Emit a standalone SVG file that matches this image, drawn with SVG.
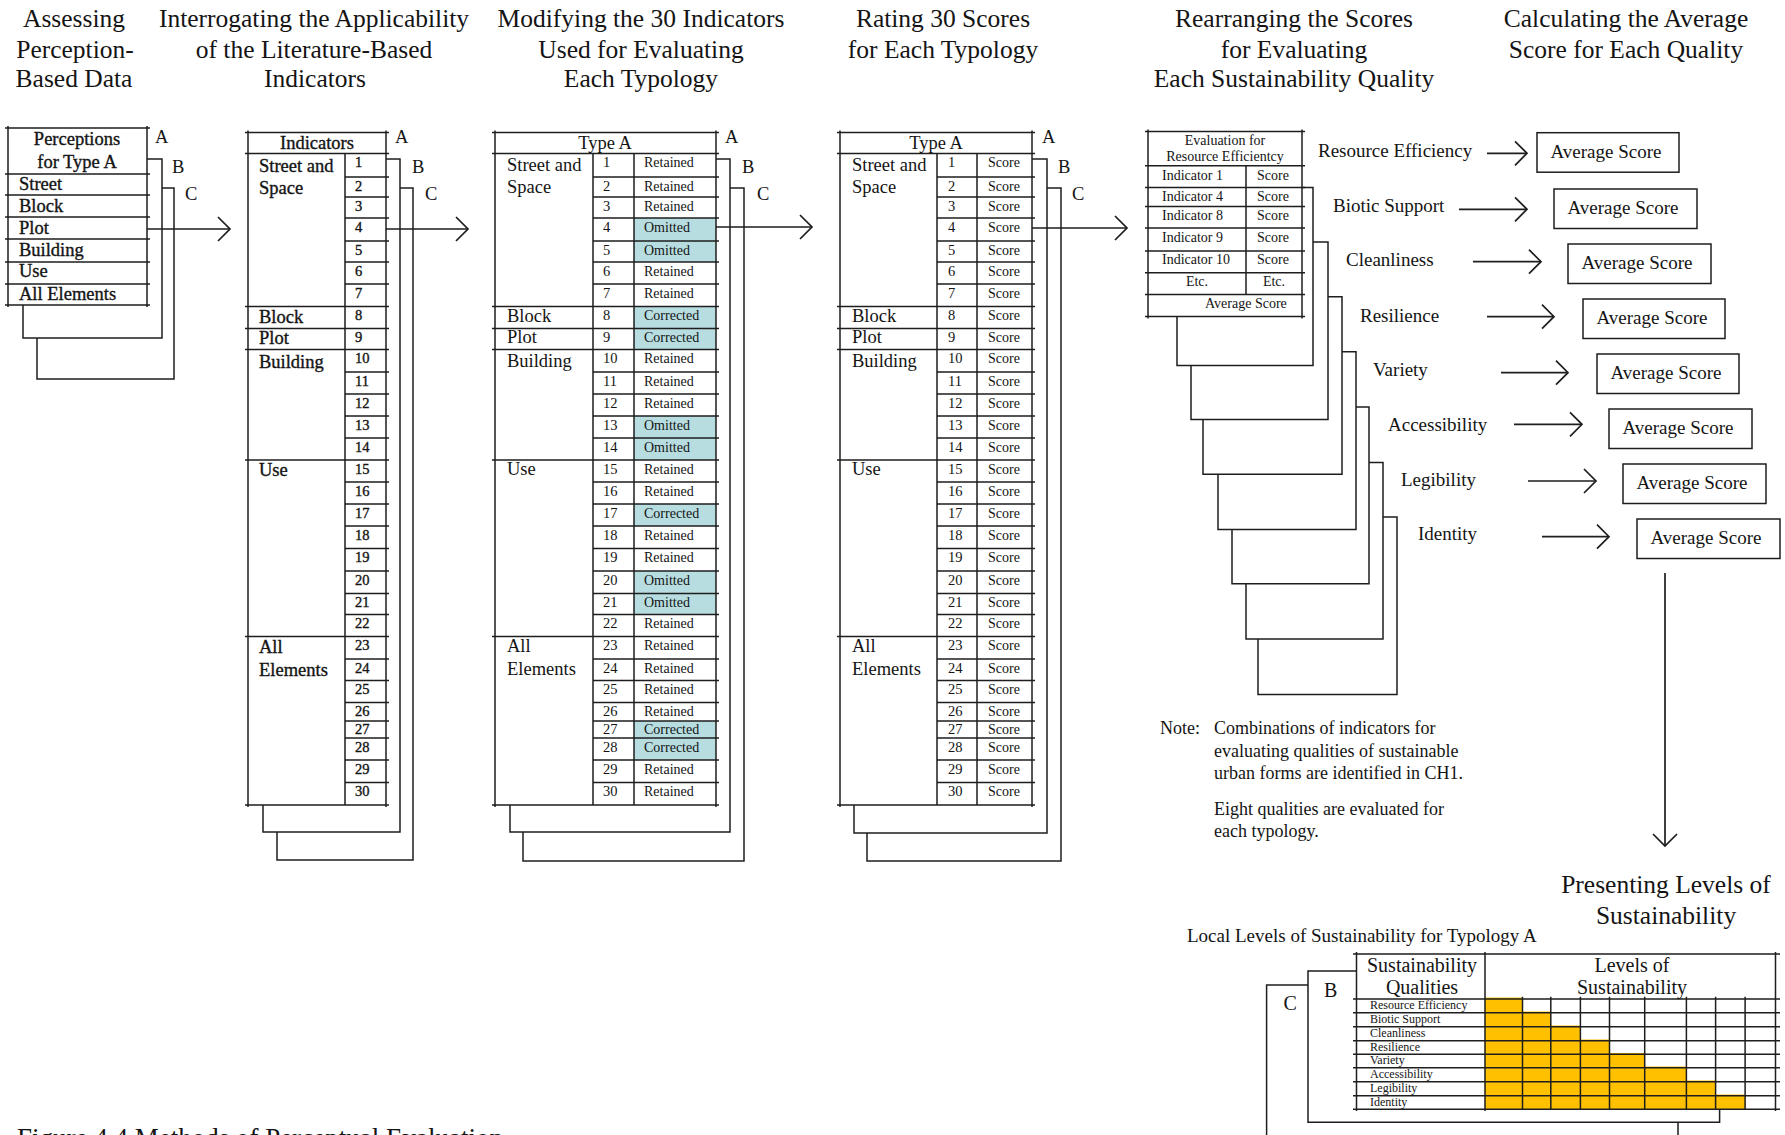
<svg xmlns="http://www.w3.org/2000/svg" width="1785" height="1135" viewBox="0 0 1785 1135">
<style>
text{font-family:"Liberation Serif","Times New Roman",serif;fill:#141414}
.ttl{font-size:25.5px;text-anchor:middle}
.ln{fill:none;stroke:#1e1e1e;stroke-width:1.5}
.ar{fill:none;stroke:#1e1e1e;stroke-width:1.7}
.lab{font-size:18.5px}
.hvy{stroke:#141414;stroke-width:0.35px}
.abc{font-size:18.5px}
.num{font-size:14.5px}
.sm{font-size:14px}
.q{font-size:19px}
.mid{text-anchor:middle}
.teal{fill:#b7dde0}
.gold{fill:#ffc000}
</style>
<defs>
  <path id="chev" class="ar" d="M-12,-12 L0,0 L-12,12"/>
  <!-- indicator numbers 1..30, one per row -->
  <g id="numcol">
    <text class="num"><tspan x="0" y="167">1</tspan><tspan x="0" y="190.5">2</tspan><tspan x="0" y="210.5">3</tspan><tspan x="0" y="231.5">4</tspan><tspan x="0" y="254.5">5</tspan><tspan x="0" y="275.5">6</tspan><tspan x="0" y="297.5">7</tspan><tspan x="0" y="320">8</tspan><tspan x="0" y="342">9</tspan><tspan x="0" y="363">10</tspan><tspan x="0" y="385.5">11</tspan><tspan x="0" y="407.5">12</tspan><tspan x="0" y="429.5">13</tspan><tspan x="0" y="451.5">14</tspan><tspan x="0" y="473.5">15</tspan><tspan x="0" y="495.5">16</tspan><tspan x="0" y="517.5">17</tspan><tspan x="0" y="539.5">18</tspan><tspan x="0" y="562">19</tspan><tspan x="0" y="584.5">20</tspan><tspan x="0" y="607">21</tspan><tspan x="0" y="628">22</tspan><tspan x="0" y="650">23</tspan><tspan x="0" y="672.5">24</tspan><tspan x="0" y="694">25</tspan><tspan x="0" y="716">26</tspan><tspan x="0" y="734">27</tspan><tspan x="0" y="751.5">28</tspan><tspan x="0" y="773.5">29</tspan><tspan x="0" y="796">30</tspan></text>
  </g>
  <!-- urban element categories -->
  <g id="catcol">
    <text class="lab"><tspan x="0" y="170.5">Street and</tspan><tspan x="0" y="192.5">Space</tspan><tspan x="0" y="321.5">Block</tspan><tspan x="0" y="343">Plot</tspan><tspan x="0" y="366.5">Building</tspan><tspan x="0" y="475">Use</tspan><tspan x="0" y="652">All</tspan><tspan x="0" y="675">Elements</tspan></text>
  </g>
</defs>

<rect width="1785" height="1135" fill="#ffffff"/>

<!-- step headings -->
<g id="headings">
  <text class="ttl" x="74" y="27">Assessing</text>
  <text class="ttl" x="75" y="57.5">Perception-</text>
  <text class="ttl" x="74" y="87">Based Data</text>
  <text class="ttl" x="314" y="27">Interrogating the Applicability</text>
  <text class="ttl" x="314" y="57.5">of the Literature-Based</text>
  <text class="ttl" x="315" y="87">Indicators</text>
  <text class="ttl" x="641" y="27">Modifying the 30 Indicators</text>
  <text class="ttl" x="641" y="57.5">Used for Evaluating</text>
  <text class="ttl" x="641" y="87">Each Typology</text>
  <text class="ttl" x="943" y="27">Rating 30 Scores</text>
  <text class="ttl" x="943" y="57.5">for Each Typology</text>
  <text class="ttl" x="1294" y="27">Rearranging the Scores</text>
  <text class="ttl" x="1294" y="57.5">for Evaluating</text>
  <text class="ttl" x="1294" y="87">Each Sustainability Quality</text>
  <text class="ttl" x="1626" y="27">Calculating the Average</text>
  <text class="ttl" x="1626" y="57.5">Score for Each Quality</text>
</g>

<!-- perception data table -->
<g id="perceptions">
  <path class="ln" d="M147 159H162V338H23V305M162 188H174V379H37V338"/>
  <rect x="8" y="128" width="139" height="177" fill="#fff"/>
  <path class="ln" d="M5 128H150M5 174H150M5 195H150M5 217H150M5 239H150M5 262H150M5 284H150M5 305H150M8 126V307M147 126V307"/>
  <g class="lab hvy">
    <text class="mid" x="77" y="145">Perceptions</text>
    <text class="mid" x="77" y="168">for Type A</text>
    <text x="19" y="190">Street</text>
    <text x="19" y="212">Block</text>
    <text x="19" y="233.5">Plot</text>
    <text x="19" y="255.5">Building</text>
    <text x="19" y="277">Use</text>
    <text x="19" y="299.5">All Elements</text>
  </g>
  <text class="abc" x="155" y="143">A</text>
  <text class="abc" x="172" y="173">B</text>
  <text class="abc" x="185" y="200">C</text>
</g>

<!-- literature-based indicators table -->
<g id="indicators">
  <path class="ln" d="M386 159H400V832H263V805M400 188H413V860H277V832"/>
  <rect x="248" y="132.5" width="138" height="672.5" fill="#fff"/>
  <path class="ln" d="M245 132.5H389M245 153.5H389M245 805H389M248 130.5V807M386 130.5V807M345 153.5V805M245 306.5H345M245 328.5H345M245 349.5H345M245 460H345M245 636.5H345"/>
  <path class="ln" d="M345 177H389M345 197H389M345 218H389M345 241H389M345 262H389M345 284H389M345 306.5H389M345 328.5H389M345 349.5H389M345 372H389M345 394H389M345 416H389M345 438H389M345 460H389M345 482H389M345 504H389M345 526H389M345 548.5H389M345 571H389M345 593.5H389M345 614.5H389M345 636.5H389M345 659H389M345 680.5H389M345 702.5H389M345 721H389M345 738H389M345 760H389M345 782.5H389"/>
  <text class="lab mid hvy" x="317" y="148.5">Indicators</text>
  <use href="#catcol" x="259" y="1" class="hvy"/>
  <use href="#numcol" x="355" class="hvy"/>
  <text class="abc" x="395" y="143">A</text>
  <text class="abc" x="412" y="173">B</text>
  <text class="abc" x="425" y="200">C</text>
</g>

<!-- modified indicators for Type A -->
<g id="modified">
  <path class="ln" d="M716 159H730V832H510V805M730 188H744V861H523V832"/>
  <rect x="495" y="132.5" width="221" height="672.5" fill="#fff"/>
  <g class="teal">
    <rect x="634" y="218" width="82" height="44"/>
    <rect x="634" y="306.5" width="82" height="43"/>
    <rect x="634" y="416" width="82" height="44"/>
    <rect x="634" y="504" width="82" height="22"/>
    <rect x="634" y="571" width="82" height="43.5"/>
    <rect x="634" y="721" width="82" height="39"/>
  </g>
  <path class="ln" d="M492 132.5H719M492 153.5H719M492 805H719M495 130.5V807M716 130.5V807M593 153.5V805M634 153.5V805M492 306.5H593M492 328.5H593M492 349.5H593M492 460H593M492 636.5H593"/>
  <path class="ln" d="M593 177H719M593 197H719M593 218H719M593 241H719M593 262H719M593 284H719M593 306.5H719M593 328.5H719M593 349.5H719M593 372H719M593 394H719M593 416H719M593 438H719M593 460H719M593 482H719M593 504H719M593 526H719M593 548.5H719M593 571H719M593 593.5H719M593 614.5H719M593 636.5H719M593 659H719M593 680.5H719M593 702.5H719M593 721H719M593 738H719M593 760H719M593 782.5H719"/>
  <text class="lab mid" x="605" y="148.5">Type A</text>
  <use href="#catcol" x="507"/>
  <use href="#numcol" x="603"/>
  <text class="sm"><tspan x="644" y="167">Retained</tspan><tspan x="644" y="190.5">Retained</tspan><tspan x="644" y="210.5">Retained</tspan><tspan x="644" y="231.5">Omitted</tspan><tspan x="644" y="254.5">Omitted</tspan><tspan x="644" y="275.5">Retained</tspan><tspan x="644" y="297.5">Retained</tspan><tspan x="644" y="320">Corrected</tspan><tspan x="644" y="342">Corrected</tspan><tspan x="644" y="363">Retained</tspan><tspan x="644" y="385.5">Retained</tspan><tspan x="644" y="407.5">Retained</tspan><tspan x="644" y="429.5">Omitted</tspan><tspan x="644" y="451.5">Omitted</tspan><tspan x="644" y="473.5">Retained</tspan><tspan x="644" y="495.5">Retained</tspan><tspan x="644" y="517.5">Corrected</tspan><tspan x="644" y="539.5">Retained</tspan><tspan x="644" y="562">Retained</tspan><tspan x="644" y="584.5">Omitted</tspan><tspan x="644" y="607">Omitted</tspan><tspan x="644" y="628">Retained</tspan><tspan x="644" y="650">Retained</tspan><tspan x="644" y="672.5">Retained</tspan><tspan x="644" y="694">Retained</tspan><tspan x="644" y="716">Retained</tspan><tspan x="644" y="734">Corrected</tspan><tspan x="644" y="751.5">Corrected</tspan><tspan x="644" y="773.5">Retained</tspan><tspan x="644" y="796">Retained</tspan></text>
  <text class="abc" x="725" y="143">A</text>
  <text class="abc" x="742" y="173">B</text>
  <text class="abc" x="757" y="200">C</text>
</g>

<!-- scores for Type A -->
<g id="scores">
  <path class="ln" d="M1032 159H1047V833H854V805M1047 188H1061V861H867V833"/>
  <rect x="840" y="132.5" width="192" height="672.5" fill="#fff"/>
  <path class="ln" d="M837 132.5H1035M837 153.5H1035M837 805H1035M840 130.5V807M1032 130.5V807M937 153.5V805M977 153.5V805M837 306.5H937M837 328.5H937M837 349.5H937M837 460H937M837 636.5H937"/>
  <path class="ln" d="M937 177H1035M937 197H1035M937 218H1035M937 241H1035M937 262H1035M937 284H1035M937 306.5H1035M937 328.5H1035M937 349.5H1035M937 372H1035M937 394H1035M937 416H1035M937 438H1035M937 460H1035M937 482H1035M937 504H1035M937 526H1035M937 548.5H1035M937 571H1035M937 593.5H1035M937 614.5H1035M937 636.5H1035M937 659H1035M937 680.5H1035M937 702.5H1035M937 721H1035M937 738H1035M937 760H1035M937 782.5H1035"/>
  <text class="lab mid" x="936" y="148.5">Type A</text>
  <use href="#catcol" x="852"/>
  <use href="#numcol" x="948"/>
  <text class="sm"><tspan x="988" y="167">Score</tspan><tspan x="988" y="190.5">Score</tspan><tspan x="988" y="210.5">Score</tspan><tspan x="988" y="231.5">Score</tspan><tspan x="988" y="254.5">Score</tspan><tspan x="988" y="275.5">Score</tspan><tspan x="988" y="297.5">Score</tspan><tspan x="988" y="320">Score</tspan><tspan x="988" y="342">Score</tspan><tspan x="988" y="363">Score</tspan><tspan x="988" y="385.5">Score</tspan><tspan x="988" y="407.5">Score</tspan><tspan x="988" y="429.5">Score</tspan><tspan x="988" y="451.5">Score</tspan><tspan x="988" y="473.5">Score</tspan><tspan x="988" y="495.5">Score</tspan><tspan x="988" y="517.5">Score</tspan><tspan x="988" y="539.5">Score</tspan><tspan x="988" y="562">Score</tspan><tspan x="988" y="584.5">Score</tspan><tspan x="988" y="607">Score</tspan><tspan x="988" y="628">Score</tspan><tspan x="988" y="650">Score</tspan><tspan x="988" y="672.5">Score</tspan><tspan x="988" y="694">Score</tspan><tspan x="988" y="716">Score</tspan><tspan x="988" y="734">Score</tspan><tspan x="988" y="751.5">Score</tspan><tspan x="988" y="773.5">Score</tspan><tspan x="988" y="796">Score</tspan></text>
  <text class="abc" x="1042" y="143">A</text>
  <text class="abc" x="1058" y="173">B</text>
  <text class="abc" x="1072" y="200">C</text>
</g>

<!-- scores regrouped per quality: stacked sheets -->
<g id="evaluation">
  <path class="ln" d="M1383 517H1397V694.4H1258V639"/>
  <path class="ln" d="M1369 462.4H1383V639H1246V583.7"/>
  <path class="ln" d="M1356 407H1369V583.7H1232V529.5"/>
  <path class="ln" d="M1342 351.7H1356V529.5H1218V474.2"/>
  <path class="ln" d="M1328 296.7H1342V474.2H1203V419.6"/>
  <path class="ln" d="M1313 242.1H1328V419.6H1191V365.4"/>
  <path class="ln" d="M1302 187.6H1313V365.4H1177V316.6"/>
  <path class="ln" d="M1145 131.5H1305M1145 165.8H1305M1145 187.6H1305M1145 206.6H1305M1145 228H1305M1145 250.9H1305M1145 272.7H1305M1145 294.4H1305M1145 316.6H1305M1148 129.5V318.6M1302 129.5V318.6M1246 165.8V294.4"/>
  <text class="sm mid" x="1225" y="145">Evaluation for</text>
  <text class="sm mid" x="1225" y="160.5">Resource Efficientcy</text>
  <g class="sm">
    <text x="1162" y="179.5">Indicator 1</text>
    <text x="1162" y="200.5">Indicator 4</text>
    <text x="1162" y="220">Indicator 8</text>
    <text x="1162" y="242">Indicator 9</text>
    <text x="1162" y="264">Indicator 10</text>
    <text class="mid" x="1197" y="286">Etc.</text>
    <text x="1257" y="179.5">Score</text>
    <text x="1257" y="200.5">Score</text>
    <text x="1257" y="220">Score</text>
    <text x="1257" y="242">Score</text>
    <text x="1257" y="264">Score</text>
    <text class="mid" x="1274" y="286">Etc.</text>
    <text x="1205" y="308">Average Score</text>
  </g>
</g>

<!-- sustainability qualities -->
<g id="qualities" class="q">
  <text x="1318" y="157">Resource Efficiency</text>
  <text x="1333" y="211.5">Biotic Support</text>
  <text x="1346" y="266">Cleanliness</text>
  <text x="1360" y="321.5">Resilience</text>
  <text x="1373" y="375.5">Variety</text>
  <text x="1388" y="431">Accessibility</text>
  <text x="1401" y="485.5">Legibility</text>
  <text x="1418" y="540">Identity</text>
</g>

<!-- average score per quality -->
<g id="averages">
  <g class="ln">
    <rect x="1537" y="132.7" width="142" height="39.5"/>
    <rect x="1554" y="189" width="143" height="39.5"/>
    <rect x="1568" y="244" width="143" height="39.5"/>
    <rect x="1583" y="299" width="142" height="39.5"/>
    <rect x="1597" y="354" width="142" height="39.5"/>
    <rect x="1609" y="409" width="143" height="39.5"/>
    <rect x="1623" y="464" width="143" height="39.5"/>
    <rect x="1637" y="519" width="143" height="39.5"/>
  </g>
  <g class="q">
    <text x="1550.5" y="157.5">Average Score</text>
    <text x="1567.5" y="213.5">Average Score</text>
    <text x="1581.5" y="268.5">Average Score</text>
    <text x="1596.5" y="323.5">Average Score</text>
    <text x="1610.5" y="378.5">Average Score</text>
    <text x="1622.5" y="433.5">Average Score</text>
    <text x="1636.5" y="488.5">Average Score</text>
    <text x="1650.5" y="543.5">Average Score</text>
  </g>
</g>

<!-- note -->
<g id="note" style="font-size:18px">
  <text x="1160" y="733.5">Note:</text>
  <text x="1214" y="733.5">Combinations of indicators for</text>
  <text x="1214" y="756.5">evaluating qualities of sustainable</text>
  <text x="1214" y="779">urban forms are identified in CH1.</text>
  <text x="1214" y="815">Eight qualities are evaluated for</text>
  <text x="1214" y="837">each typology.</text>
</g>

<!-- presentation of levels -->
<g id="levels">
  <text class="ttl" x="1666" y="893">Presenting Levels of</text>
  <text class="ttl" x="1666" y="924">Sustainability</text>
  <text class="q" x="1187" y="942">Local Levels of Sustainability for Typology A</text>
  <path class="ln" d="M1356.5 971H1308V1122.3H1719.6V1109.3M1308 985H1266.6V1140M1678 1122.3V1140"/>
  <text style="font-size:20px" x="1324" y="997">B</text>
  <text style="font-size:20px" x="1283.5" y="1010">C</text>
  <g class="gold">
    <rect x="1485" y="997.5" width="37.5" height="15.2"/>
    <rect x="1485" y="1011.5" width="65.8" height="15.2"/>
    <rect x="1485" y="1025.5" width="95.4" height="15.2"/>
    <rect x="1485" y="1039.5" width="124.5" height="14.8"/>
    <rect x="1485" y="1053" width="159.7" height="14.7"/>
    <rect x="1485" y="1066.5" width="201.4" height="15.2"/>
    <rect x="1485" y="1080.5" width="230.6" height="15.2"/>
    <rect x="1485" y="1094.5" width="260.1" height="14.8"/>
  </g>
  <path class="ln" d="M1353 954H1780M1353 999H1780M1353 1012.7H1780M1353 1026.7H1780M1353 1040.7H1780M1353 1054.3H1780M1353 1067.7H1780M1353 1081.7H1780M1353 1095.7H1780M1353 1109.3H1780M1356.5 952V1111M1485 952V1111M1775.5 952V1111M1522.5 996.7V1109.3M1550.8 996.7V1109.3M1580.4 996.7V1109.3M1609.5 996.7V1109.3M1644.7 996.7V1109.3M1686.4 996.7V1109.3M1715.6 996.7V1109.3M1745.1 996.7V1109.3"/>
  <text style="font-size:20px" class="mid" x="1422" y="972">Sustainability</text>
  <text style="font-size:20px" class="mid" x="1422" y="994">Qualities</text>
  <text style="font-size:20px" class="mid" x="1632" y="972">Levels of</text>
  <text style="font-size:20px" class="mid" x="1632" y="994">Sustainability</text>
  <g style="font-size:12px">
    <text x="1370" y="1008.5">Resource Efficiency</text>
    <text x="1370" y="1022.5">Biotic Support</text>
    <text x="1370" y="1036.5">Cleanliness</text>
    <text x="1370" y="1050.5">Resilience</text>
    <text x="1370" y="1064">Variety</text>
    <text x="1370" y="1078">Accessibility</text>
    <text x="1370" y="1092">Legibility</text>
    <text x="1370" y="1106">Identity</text>
  </g>
</g>

<!-- flow connectors -->
<g id="connectors">
  <path class="ar" d="M147 229H229M386 229H467M716 227H811M1032 228H1126"/>
  <use href="#chev" transform="translate(230 229)"/>
  <use href="#chev" transform="translate(468 229)"/>
  <use href="#chev" transform="translate(812 227)"/>
  <use href="#chev" transform="translate(1127 228)"/>
  <path class="ar" d="M1487 153.3H1526M1459 209.3H1526M1473 261.7H1540M1487 316.7H1553M1501 372.7H1567M1514 424.3H1581M1528 481H1595M1542 536.7H1608"/>
  <use href="#chev" transform="translate(1527 153.3)"/>
  <use href="#chev" transform="translate(1527 209.3)"/>
  <use href="#chev" transform="translate(1541 261.7)"/>
  <use href="#chev" transform="translate(1554 316.7)"/>
  <use href="#chev" transform="translate(1568 372.7)"/>
  <use href="#chev" transform="translate(1582 424.3)"/>
  <use href="#chev" transform="translate(1596 481)"/>
  <use href="#chev" transform="translate(1609 536.7)"/>
  <path class="ar" d="M1665 573V845"/>
  <use href="#chev" transform="translate(1665 846) rotate(90)"/>
</g>

<text x="17" y="1147" style="font-size:27px">Figure 4.4 Methods of Perceptual Evaluation</text>
</svg>
